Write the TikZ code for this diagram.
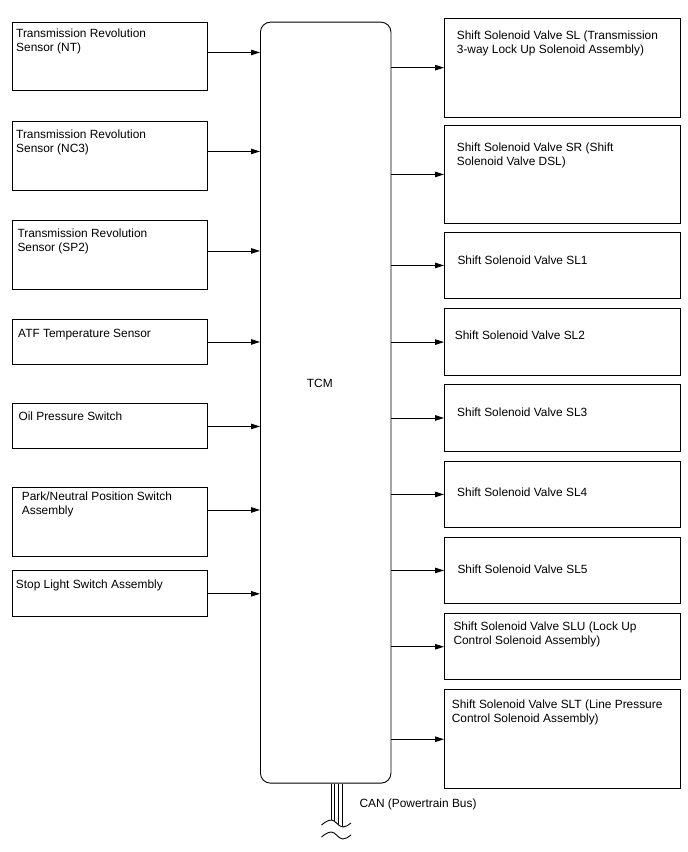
\documentclass[tikz,border=0pt]{standalone}
\usepackage{fontspec}
\setmainfont{Liberation Sans}
\usetikzlibrary{arrows.meta}

\begin{document}
\begin{tikzpicture}[x=1pt,y=-1pt,
    box/.style={draw,line width=0.9pt,rectangle,inner sep=0pt,anchor=north west},
    txt/.style={anchor=base west,inner sep=0pt,align=left,font=\fontsize{11.9}{14}\selectfont},
    arr/.style={line width=0.9pt,-{Triangle[length=9pt,width=5.5pt]}},
    wire/.style={line width=0.9pt}]
    \useasboundingbox (0,0) rectangle (688,852);

    % control unit
    \node[box,rounded corners=10pt,minimum width=130.5pt,minimum height=761pt] (Tcm) at (260,21.7) {};
    \node[txt] (TcmText) at (306.7,387.6) {TCM};

    % sensors and switches
    \node[box,minimum width=195pt,minimum height=68pt] (SensorNT) at (12,22) {};
    \node[box,minimum width=195pt,minimum height=69pt] (SensorNC3) at (12,121) {};
    \node[box,minimum width=195pt,minimum height=69pt] (SensorSP2) at (12,220) {};
    \node[box,minimum width=195pt,minimum height=45pt] (AtfSensor) at (12,319) {};
    \node[box,minimum width=195pt,minimum height=45.6pt] (OilSwitch) at (12,402.7) {};
    \node[box,minimum width=195pt,minimum height=69pt] (PnpSwitch) at (12,486.7) {};
    \node[box,minimum width=195pt,minimum height=45.7pt] (StopSwitch) at (12,570) {};

    % (multi-line texts sit on their last baseline)
    \node[txt] (SensorNTText) at (16,51.3) {Transmission Revolution\\Sensor (NT)};
    \node[txt] (SensorNC3Text) at (16,152.3) {Transmission Revolution\\Sensor (NC3)};
    \node[txt] (SensorSP2Text) at (17.3,251.6) {Transmission Revolution\\Sensor (SP2)};
    \node[txt] (AtfSensorText) at (18,337.3) {ATF Temperature Sensor};
    \node[txt] (OilSwitchText) at (18.3,420.7) {Oil Pressure Switch};
    \node[txt] (PnpSwitchText) at (21.7,514.7) {Park/Neutral Position Switch\\Assembly};
    \node[txt] (StopSwitchText) at (15.7,588.3) {Stop Light Switch Assembly};

    % solenoid valves
    \node[box,minimum width=236pt,minimum height=99pt] (ValveSL) at (444,17.7) {};
    \node[box,minimum width=236pt,minimum height=98.6pt] (ValveSR) at (444,124.7) {};
    \node[box,minimum width=236pt,minimum height=66.6pt] (ValveSL1) at (444,231.7) {};
    \node[box,minimum width=236pt,minimum height=66.7pt] (ValveSL2) at (444,308.3) {};
    \node[box,minimum width=236pt,minimum height=67pt] (ValveSL3) at (444,384) {};
    \node[box,minimum width=236pt,minimum height=66.6pt] (ValveSL4) at (444,460.7) {};
    \node[box,minimum width=236pt,minimum height=66.6pt] (ValveSL5) at (444,536.7) {};
    \node[box,minimum width=236pt,minimum height=66pt] (ValveSLU) at (444,613.3) {};
    \node[box,minimum width=236pt,minimum height=99pt] (ValveSLT) at (444,689.3) {};

    \node[txt] (ValveSLText) at (456.7,53.5) {Shift Solenoid Valve SL (Transmission\\3-way Lock Up Solenoid Assembly)};
    \node[txt] (ValveSRText) at (456.7,165.9) {Shift Solenoid Valve SR (Shift\\Solenoid Valve DSL)};
    \node[txt] (ValveSL1Text) at (457.3,264.3) {Shift Solenoid Valve SL1};
    \node[txt] (ValveSL2Text) at (454.7,339.3) {Shift Solenoid Valve SL2};
    \node[txt] (ValveSL3Text) at (457,416.6) {Shift Solenoid Valve SL3};
    \node[txt] (ValveSL4Text) at (457,496.6) {Shift Solenoid Valve SL4};
    \node[txt] (ValveSL5Text) at (457.3,573.3) {Shift Solenoid Valve SL5};
    \node[txt] (ValveSLUText) at (453.3,644.3) {Shift Solenoid Valve SLU (Lock Up\\Control Solenoid Assembly)};
    \node[txt] (ValveSLTText) at (451.7,722.6) {Shift Solenoid Valve SLT (Line Pressure\\Control Solenoid Assembly)};

    % arrows in and out
    \foreach \src/\dy in {SensorNT/-4,SensorNC3/-4.5,SensorSP2/-4,AtfSensor/0,OilSwitch/0.5,PnpSwitch/-11.7,StopSwitch/0.5}
        \draw[arr] (\src.east) ++(0,\dy) coordinate (From) -- (From -| Tcm.west);
    \foreach \dst in {ValveSL,ValveSR,ValveSL1,ValveSL2,ValveSL3,ValveSL4,ValveSL5,ValveSLU,ValveSLT}
        \draw[arr] (Tcm.east |- \dst.west) -- (\dst.west);

    % bus
    \foreach \cx/\cy in {331.5/820.3,334/820.6,338/823.8,342.5/826.8}
        \draw[wire] (\cx,0 |- Tcm.south) -- (\cx,\cy);
    \foreach \wy in {0,12}
        \draw[wire] (321.5,825+\wy) sin (331.5,820+\wy) cos (337,823.5+\wy) sin (343,827+\wy) cos (351,823+\wy);
    \node[txt] (CanText) at (359.3,807.7) {CAN (Powertrain Bus)};
\end{tikzpicture}
\end{document}
